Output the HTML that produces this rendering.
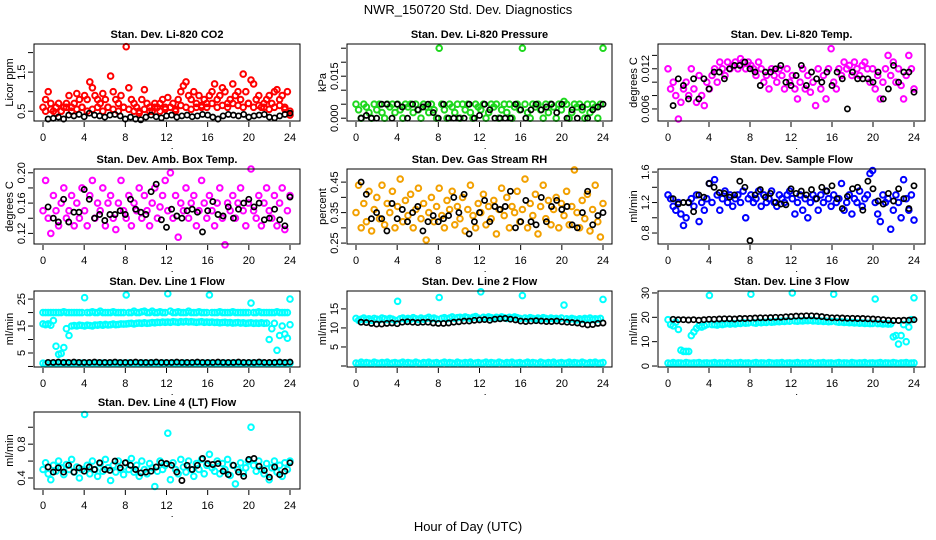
<!DOCTYPE html>
<html><head><meta charset="utf-8"><style>
html,body{margin:0;padding:0;background:#fff;}
svg{display:block;font-family:"Liberation Sans",sans-serif;}
</style></head><body>
<svg id="chart" width="936" height="540" viewBox="0 0 936 540" xmlns="http://www.w3.org/2000/svg">
<rect x="0" y="0" width="936" height="540" fill="#fff"/>
<text x="468" y="14" text-anchor="middle" font-size="13">NWR_150720  Std. Dev. Diagnostics</text>
<text x="468" y="531" text-anchor="middle" font-size="13">Hour of Day (UTC)</text>
</svg>
<script>
const xTicks = [0,4,8,12,16,20,24];

const co2Color = [0.6,0.8,1.0,0.7,0.5,0.6,0.7,0.5,0.6,0.7,0.9,0.6,0.7,0.95,0.8,0.6,
0.9,0.8,1.25,1.1,0.9,0.8,0.7,0.95,0.8,0.6,1.4,1.0,0.8,0.7,0.9,0.6,
2.15,1.1,0.8,0.7,0.6,0.5,0.8,1.05,0.7,0.6,0.5,0.7,0.6,0.7,0.8,0.6,
0.85,0.6,0.7,0.5,0.8,1.0,1.15,1.25,0.9,0.8,1.0,0.7,0.9,0.6,0.8,0.7,
0.9,1.0,1.2,0.8,0.9,1.1,1.0,0.7,0.8,1.2,0.9,1.0,0.8,1.45,1.0,0.7,
1.3,1.2,0.8,0.9,0.6,0.7,0.8,0.9,0.7,1.0,1.05,0.8,0.9,0.6,1.0,0.4];
const co2Low = [0.5,0.55,0.45,0.5,0.6,0.5,0.55,0.6,0.5,0.55,0.6,0.5,0.6,0.55,0.5,0.6,0.55,0.5,0.45,0.55,0.5,0.6,0.5,0.55,
0.6,0.55,0.65,0.6,0.55,0.6,0.65,0.6,0.7,0.6,0.65,0.6,0.7,0.65,0.6,0.7,0.6,0.65,0.6,0.55,0.6,0.65,0.55,0.5];
const co2Black = [0.3,0.32,0.35,0.3,0.4,0.38,0.42,0.36,0.45,0.4,0.38,0.35,0.4,0.42,0.38,0.3,0.35,0.3,0.28,0.35,0.4,0.36,0.33,0.38,0.4,0.35,0.38,0.4,0.36,0.38,0.42,0.4,0.35,0.3,0.38,0.42,0.4,0.38,0.42,0.35,0.38,0.4,0.42,0.35,0.33,0.38,0.42,0.45];

const presColor = [0.005,0.003,0,0.005,0.004,0.002,0,0.005,0.003,0.005,0.002,0,0.005,0.004,0.005,0.002,
0.005,0.003,0,0.005,0.004,0.005,0.002,0.005,0.003,0,0.005,0.004,0.002,0.005,0.003,0,
0.025,0.005,0.003,0,0.005,0.004,0.002,0.005,0,0.005,0.003,0.005,0.002,0,0.005,0.004,
0.003,0.005,0,0.002,0.005,0.004,0.005,0,0.003,0.005,0.002,0.005,0,0.004,0.005,0.003,
0.025,0.005,0.002,0,0.005,0.004,0.005,0.003,0,0.005,0.002,0.005,0.004,0,0.005,0.003,
0.006,0.005,0,0.002,0.005,0.004,0.005,0.003,0,0.005,0.002,0.005,0.004,0,0.005,0.025];
const presBlack = [0,0.001,0,0,0.005,0.005,0,0.005,0.004,0,0.005,0.003,0.004,0.005,0.002,0,0.005,0,0,0,0,0.005,0,0.001,0.005,0.003,0,0,0,0,0.005,0.003,0,0.003,0.005,0.003,0.004,0.005,0.002,0.005,0,0.003,0,0.004,0,0.003,0.004,0.005];

const tempColor = [0.012,0.009,0.01,0.008,0.0045,0.007,0.009,0.01,0.008,0.012,0.009,0.007,0.011,0.008,0.0065,0.01,
0.009,0.011,0.012,0.01,0.013,0.012,0.011,0.013,0.012,0.0125,0.013,0.012,0.0135,0.013,0.012,0.013,
0.0125,0.012,0.011,0.013,0.012,0.01,0.011,0.009,0.012,0.011,0.01,0.012,0.011,0.009,0.012,0.01,
0.011,0.009,0.0075,0.01,0.012,0.009,0.011,0.0085,0.01,0.0065,0.012,0.009,0.011,0.0075,0.012,0.015,
0.01,0.009,0.012,0.011,0.013,0.012,0.0125,0.011,0.013,0.012,0.011,0.0125,0.013,0.012,0.01,0.012,
0.009,0.011,0.0075,0.01,0.012,0.014,0.011,0.013,0.01,0.012,0.0095,0.0075,0.011,0.014,0.012,0.009];
const tempBlack = [0.0065,0.0105,0.0095,0.0075,0.0105,0.0075,0.0105,0.009,0.0115,0.0115,0.0105,0.012,0.0125,0.0125,0.013,0.012,0.0115,0.0095,0.0115,0.0115,0.012,0.0125,0.01,0.0095,0.011,0.0125,0.0095,0.0115,0.0105,0.01,0.0115,0.0095,0.0115,0.0105,0.006,0.0115,0.0105,0.0105,0.0105,0.01,0.0115,0.0075,0.009,0.0125,0.01,0.0115,0.0115,0.0085];

const boxColor = [0.15,0.19,0.14,0.12,0.17,0.15,0.13,0.16,0.18,0.14,0.15,0.17,0.13,0.16,0.14,0.18,
0.15,0.13,0.17,0.19,0.14,0.16,0.15,0.18,0.13,0.16,0.17,0.14,0.125,0.16,0.19,0.15,
0.14,0.17,0.13,0.16,0.15,0.18,0.14,0.17,0.15,0.13,0.16,0.18,0.14,0.155,0.17,0.19,
0.15,0.2,0.14,0.17,0.115,0.16,0.15,0.18,0.14,0.16,0.17,0.13,0.15,0.19,0.16,0.14,
0.17,0.15,0.13,0.16,0.18,0.14,0.105,0.16,0.15,0.17,0.14,0.16,0.18,0.15,0.13,0.16,
0.205,0.15,0.14,0.17,0.13,0.16,0.18,0.15,0.14,0.17,0.13,0.16,0.18,0.125,0.15,0.17];
const boxBlack = [0.155,0.14,0.135,0.165,0.135,0.148,0.148,0.178,0.165,0.14,0.145,0.137,0.145,0.145,0.15,0.145,0.165,0.152,0.148,0.145,0.175,0.185,0.138,0.128,0.152,0.143,0.14,0.15,0.152,0.148,0.122,0.15,0.162,0.145,0.143,0.155,0.14,0.152,0.16,0.165,0.155,0.16,0.138,0.14,0.152,0.138,0.13,0.168];

const rhColor = [0.35,0.44,0.3,0.38,0.32,0.42,0.29,0.36,0.4,0.33,0.44,0.31,0.38,0.35,0.42,0.3,
0.37,0.46,0.32,0.39,0.34,0.41,0.3,0.36,0.43,0.33,0.38,0.26,0.35,0.4,0.32,0.37,
0.43,0.34,0.3,0.39,0.36,0.42,0.31,0.37,0.33,0.4,0.29,0.36,0.44,0.34,0.3,0.38,
0.35,0.41,0.31,0.37,0.33,0.39,0.28,0.36,0.43,0.34,0.4,0.3,0.37,0.35,0.42,0.32,
0.36,0.46,0.3,0.38,0.34,0.41,0.28,0.37,0.44,0.33,0.39,0.31,0.36,0.4,0.3,0.38,
0.34,0.42,0.31,0.37,0.49,0.35,0.3,0.39,0.33,0.41,0.29,0.36,0.44,0.32,0.27,0.38];
const rhBlack = [0.45,0.41,0.33,0.35,0.33,0.29,0.38,0.33,0.36,0.32,0.35,0.37,0.29,0.32,0.34,0.32,0.33,0.34,0.4,0.35,0.41,0.28,0.32,0.35,0.39,0.32,0.37,0.36,0.37,0.42,0.3,0.32,0.39,0.32,0.31,0.4,0.32,0.37,0.39,0.36,0.37,0.31,0.3,0.35,0.42,0.31,0.34,0.35];

const flowColor = [1.3,1.25,1.15,1.1,1.2,1.05,0.9,1.0,1.2,1.25,1.15,1.3,0.95,1.2,1.1,1.25,
1.45,1.2,1.5,1.3,1.1,1.25,1.35,1.2,1.3,1.15,1.25,1.3,1.2,1.35,1.0,1.25,
1.3,1.2,1.25,1.35,1.15,1.3,1.2,1.25,1.35,1.2,1.15,1.3,1.25,1.2,1.3,1.35,
1.25,1.05,1.2,1.3,1.1,1.25,1.0,1.2,1.3,1.25,1.1,1.3,1.2,1.35,1.25,1.15,
1.3,1.2,1.25,1.45,1.1,1.2,1.3,1.05,1.25,1.2,1.35,1.15,1.25,1.3,1.58,1.62,
1.2,1.05,0.95,1.3,1.2,1.25,0.85,1.1,1.3,1.2,1.0,1.5,1.25,1.1,1.3,0.97];
const flowBlack = [1.25,1.18,1.2,1.2,1.08,1.3,1.27,1.45,1.4,1.33,1.32,1.27,1.3,1.48,1.4,0.7,1.3,1.37,1.27,1.32,1.2,1.18,1.17,1.38,1.32,1.35,1.3,1.37,1.25,1.4,1.35,1.42,1.25,1.12,1.28,1.38,1.4,1.1,1.48,1.38,1.22,1.18,1.32,1.22,1.38,1.25,1.12,1.42];

const line1Upper = [20,20,20,20,20,20,20,20,20.3,20,20,20,20,20,20,20,
25.5,20,20,20.3,20,20,20.5,20,20,20,20,20.3,20,20,20,20,
26.5,20,20,20.5,20,20,20.3,20.5,20,20,20.5,20,20,20.3,20,20,
27,20.5,20,20,20.3,20,20,20,20.5,20,20,20,20.3,20,20,20,
26.5,20,20,20,20.3,20,20,20,20,20.3,20,20,20,20,20,20,
23.5,20,20,20.3,20,20,20,20,20,20,20.3,20,20,20,20,25];
const line1Lower = [15.8,15.5,15.8,15.3,17,7.5,4.5,4.8,7,14,11.5,15,15.2,15,15.3,15.2,
15,15.3,15.2,15,15.4,15.3,15.5,15.3,15.6,15.4,15.5,15.7,15.5,15.6,15.8,15.7,
15.8,15.9,16,15.8,16,16.1,16,16.2,16,16.1,16.3,16.2,16.4,16.3,16.5,16.4,
16.5,16.4,16.6,16.5,16.4,16.6,16.5,16.7,16.5,16.6,16.5,16.4,16.5,16.6,16.4,16.5,
16.4,16.5,16.3,16.4,16.2,16.3,16.4,16.2,16.3,16.1,16.2,16.3,16.1,16.2,16,16.1,
16.2,16,16.1,16,16.2,16,16.1,10,14,16,6,11.5,15,12,10.5,15.5];
const line1Base = [1.2,1.0,1.3,1.1,1.2,1.0,1.3,1.2,1.1,1.4,1.2,1.0,1.3,1.2,1.1,1.2,
1.3,1.1,1.2,1.0,1.3,1.2,1.1,1.2,1.3,1.0,1.2,1.1,1.3,1.2,1.0,1.2,
1.1,1.3,1.2,1.0,1.2,1.1,1.3,1.2,1.0,1.2,1.3,1.1,1.2,1.0,1.3,1.2,
1.1,1.2,1.3,1.0,1.2,1.1,1.3,1.2,1.0,1.2,1.1,1.3,1.2,1.0,1.2,1.1,
1.3,1.2,1.0,1.2,1.1,1.3,1.2,1.0,1.2,1.1,1.3,1.2,1.0,1.2,1.1,1.3,
1.2,1.0,1.2,1.1,1.3,1.2,1.0,1.2,1.1,1.3,1.2,1.0,1.2,1.1,1.3,1.2];
const line1Black = [1.5,1.5,1.6,1.5,1.5,1.6,1.5,1.5,1.5,1.6,1.5,1.5,1.5,1.6,1.5,1.5,1.5,1.6,1.5,1.5,1.5,1.6,1.5,1.5,1.5,1.6,1.5,1.5,1.5,1.6,1.5,1.5,1.5,1.6,1.5,1.5,1.5,1.6,1.5,1.5,1.5,1.6,1.5,1.5,1.5,1.6,1.5,1.6];

const line2Upper = [12.5,12,12.3,12.6,12.2,12.4,12,12.5,12.3,12.1,12.6,12.4,12.2,12.5,12.3,12,
17,12.4,12.6,12.2,12.5,12.3,12.7,12.4,12.2,12.6,12.3,12.5,12.8,12.4,12.6,12.3,
18,12.5,12.7,12.4,12.6,12.9,12.5,12.7,12.8,12.6,12.9,12.7,12.5,12.8,13,12.6,
19.5,12.8,12.6,12.9,12.7,12.5,12.8,12.6,12.9,12.7,12.5,12.8,12.6,12.9,12.7,12.5,
18.5,12.6,12.4,12.7,12.5,12.3,12.6,12.4,12.7,12.5,12.3,12.6,12.4,12.5,12.3,12.6,
16,12.4,12.2,12.5,12.3,12.1,12.4,12.2,12.5,12.3,12.6,12.2,12.4,12.3,12.5,17.5];
const line2Base = [0.8,0.6,1.0,0.7,0.9,0.8,0.6,1.0,0.8,0.7,0.9,0.8,1.0,0.6,0.8,0.9,
0.7,0.8,1.0,0.6,0.9,0.8,0.7,1.0,0.8,0.6,0.9,0.8,1.0,0.7,0.8,0.9,
0.6,0.8,1.0,0.7,0.9,0.8,0.6,1.0,0.8,0.7,0.9,0.8,1.0,0.6,0.8,0.9,
0.7,0.8,1.0,0.6,0.9,0.8,0.7,1.0,0.8,0.6,0.9,0.8,1.0,0.7,0.8,0.9,
0.6,0.8,1.0,0.7,0.9,0.8,0.6,1.0,0.8,0.7,0.9,0.8,1.0,0.6,0.8,0.9,
0.7,0.8,1.0,0.6,0.9,0.8,0.7,1.0,0.8,0.6,0.9,0.8,1.0,0.7,0.8,0.9];
const line2Black = [11.5,11.4,11.2,11,11,11.2,11.3,11.1,11.5,11.6,11.5,11.4,11.5,11.5,11.3,11.2,11.2,11.3,11.5,11.6,11.8,11.8,12,12.1,12.2,12,12.3,12.4,12.5,12.3,12.1,11.8,11.7,11.8,11.9,11.8,11.7,11.7,11.8,11.6,11.5,11.4,11.3,11,10.8,10.9,11.2,11.3];

const line3Upper = [19,17,16.5,18,15,6.5,6,6,6,12.5,14,15.5,16.5,16,16.5,17,
29,17,17,16.8,17.2,17,17.3,17.5,17.2,17.5,17.3,17.6,17.5,17.8,17.6,17.7,
29.5,17.8,17.6,18,17.8,18,17.9,18.2,18,18.1,18.3,18.2,18.4,18.3,18.5,18.4,
30,18.5,18.4,18.6,18.5,18.7,18.6,18.8,18.5,18.6,18.4,18.5,18.3,18.4,18.2,18.3,
29.5,18.2,18,18.1,17.9,18,17.8,17.9,17.7,17.8,17.6,17.7,17.5,17.6,17.4,17.5,
27.5,17.4,17.5,17.3,17.4,17.2,17.3,12,12.5,9,12.5,17,10,16,19,28];
const line3Base = [1.2,1.0,1.4,1.1,1.3,1.2,1.0,1.4,1.2,1.1,1.3,1.2,1.4,1.0,1.2,1.3,
1.1,1.2,1.4,1.0,1.3,1.2,1.1,1.4,1.2,1.0,1.3,1.2,1.4,1.1,1.2,1.3,
1.0,1.2,1.4,1.1,1.3,1.2,1.0,1.4,1.2,1.1,1.3,1.2,1.4,1.0,1.2,1.3,
1.1,1.2,1.4,1.0,1.3,1.2,1.1,1.4,1.2,1.0,1.3,1.2,1.4,1.1,1.2,1.3,
1.0,1.2,1.4,1.1,1.3,1.2,1.0,1.4,1.2,1.1,1.3,1.2,1.4,1.0,1.2,1.3,
1.1,1.2,1.4,1.0,1.3,1.2,1.1,1.4,1.2,1.0,1.3,1.2,1.4,1.1,1.2,1.3];
const line3Black = [19.2,19,19,18.9,19,18.8,19,19.2,19.2,19.3,19.4,19.4,19.3,19.5,19.5,19.6,19.7,19.8,19.8,19.9,20,20,20.2,20.3,20.5,20.5,20.6,20.6,20.5,20.3,20,19.8,19.8,19.7,19.6,19.6,19.5,19.5,19.4,19.3,19.2,19,18.8,18.7,18.7,18.8,18.8,19];

const line4Color = [0.5,0.58,0.45,0.38,0.55,0.48,0.6,0.52,0.44,0.56,0.5,0.62,0.47,0.53,0.4,0.5,
1.15,0.55,0.45,0.6,0.5,0.42,0.57,0.48,0.62,0.52,0.37,0.55,0.47,0.6,0.5,0.44,
0.58,0.5,0.63,0.47,0.55,0.42,0.6,0.5,0.45,0.57,0.52,0.3,0.48,0.6,0.5,0.55,
0.93,0.38,0.58,0.5,0.45,0.62,0.53,0.47,0.6,0.5,0.42,0.57,0.5,0.62,0.45,0.55,
0.68,0.52,0.48,0.6,0.45,0.57,0.5,0.62,0.43,0.55,0.33,0.5,0.58,0.46,0.52,0.6,
1.0,0.55,0.48,0.6,0.5,0.45,0.57,0.38,0.52,0.6,0.47,0.55,0.42,0.58,0.5,0.6];
const line4Black = [0.53,0.47,0.52,0.47,0.55,0.47,0.52,0.48,0.53,0.5,0.58,0.5,0.49,0.6,0.52,0.58,0.55,0.5,0.46,0.47,0.48,0.53,0.58,0.57,0.55,0.47,0.37,0.55,0.5,0.55,0.63,0.57,0.56,0.57,0.48,0.44,0.55,0.47,0.42,0.62,0.63,0.54,0.49,0.41,0.53,0.44,0.48,0.58];

const NS = "http://www.w3.org/2000/svg";
const svg = document.getElementById('chart');
function mk(tag, attrs, parent){
  const e = document.createElementNS(NS, tag);
  for (const k in attrs) e.setAttribute(k, attrs[k]);
  (parent||svg).appendChild(e);
  return e;
}
const COLS = [{l:34,r:300,x0:43,x24:290},{l:347,r:612,x0:356,x24:603},{l:658,r:925,x0:668,x24:914}];
const ROWS = [{t:44,b:121},{t:169,b:244},{t:291,b:367},{t:412,b:489}];

const panels = [
 {name:'co2',title:'Stan. Dev. Li-820 CO2',ylab:'Licor ppm',c:0,r:0,ymin:0.25,ymax:2.22,ticks:[0.5,1,1.5,2],labels:['0.5','1.5'],col:'#ff0000',series:[co2Color,co2Low],black:co2Black},
 {name:'pressure',title:'Stan. Dev. Li-820 Pressure',ylab:'kPa',c:1,r:0,ymin:-0.001,ymax:0.0265,ticks:[0,0.005,0.01,0.015,0.02,0.025],labels:['0.000','0.015'],col:'#1ed81e',series:[presColor],black:presBlack},
 {name:'li820-temp',title:'Stan. Dev. Li-820 Temp.',ylab:'degrees C',c:2,r:0,ymin:0.0042,ymax:0.0157,ticks:[0.006,0.008,0.01,0.012,0.014],labels:['0.006','0.012'],col:'#ff00ff',series:[tempColor],black:tempBlack},
 {name:'box-temp',title:'Stan. Dev. Amb. Box Temp.',ylab:'degrees C',c:0,r:1,ymin:0.106,ymax:0.205,ticks:[0.12,0.14,0.16,0.18,0.2],labels:['0.12','0.16','0.20'],col:'#ff00ff',series:[boxColor],black:boxBlack},
 {name:'gas-rh',title:'Stan. Dev. Gas Stream RH',ylab:'percent',c:1,r:1,ymin:0.247,ymax:0.493,ticks:[0.25,0.3,0.35,0.4,0.45],labels:['0.25','0.35','0.45'],col:'#f2a000',series:[rhColor],black:rhBlack},
 {name:'sample-flow',title:'Stan. Dev. Sample Flow',ylab:'ml/min',c:2,r:1,ymin:0.656,ymax:1.64,ticks:[0.8,1.0,1.2,1.4,1.6],labels:['0.8','1.2','1.6'],col:'#0000ff',series:[flowColor],black:flowBlack},
 {name:'line1-flow',title:'Stan. Dev. Line 1 Flow',ylab:'ml/min',c:0,r:2,ymin:-0.2,ymax:28,ticks:[0,5,10,15,20,25],labels:['5','15','25'],col:'#00ffff',series:[line1Upper,line1Lower,line1Base],black:line1Black},
 {name:'line2-flow',title:'Stan. Dev. Line 2 Flow',ylab:'ml/min',c:1,r:2,ymin:-0.26,ymax:19.7,ticks:[0,5,10,15],labels:['5','10','15'],col:'#00ffff',series:[line2Upper,line2Base],black:line2Black},
 {name:'line3-flow',title:'Stan. Dev. Line 3 Flow',ylab:'ml/min',c:2,r:2,ymin:-0.4,ymax:30.8,ticks:[0,10,20,30],labels:['0','10','20','30'],col:'#00ffff',series:[line3Upper,line3Base],black:line3Black},
 {name:'line4-flow',title:'Stan. Dev. Line 4 (LT) Flow',ylab:'ml/min',c:0,r:3,ymin:0.27,ymax:1.18,ticks:[0.4,0.6,0.8,1.0],labels:['0.4','0.8'],col:'#00ffff',series:[line4Color],black:line4Black}
];

panels.forEach(p => {
  const C = COLS[p.c], R = ROWS[p.r];
  const g = mk('g', {});
  
  
  const xs = h => C.x0 + (C.x24 - C.x0) * h / 24;
  const ys = v => R.b - (R.b - R.t) * (v - p.ymin) / (p.ymax - p.ymin);
  const t = mk('text', {x:(C.l+C.r)/2, y:R.t-6, 'text-anchor':'middle', 'font-size':'11', 'font-weight':'bold'}, g);
  t.textContent = p.title;
  
  
  const yl = mk('text', {x:0, y:0, 'text-anchor':'middle', 'font-size':'11', transform:`translate(${C.l-21},${(R.t+R.b)/2}) rotate(-90)`}, g);
  yl.textContent = p.ylab;
  
  
  const pg = mk('g', {fill:'none'}, g);
  
  
  p.series.forEach((arr, si) => {
    const off = si === 1 && arr.length < 96 ? 0.25 : 0;
    arr.forEach((v, i) => {
      const h = off + i * (24 - off) / (arr.length - 1);
      const c = mk('circle', {cx:xs(h).toFixed(1), cy:ys(v).toFixed(1), r:'2.8', stroke:p.col, 'stroke-width':'2'}, pg);
      
      
    });
  });
  p.black.forEach((v, i) => {
    const h = 0.5 + i * 23.5 / (p.black.length - 1);
    const c = mk('circle', {cx:xs(h).toFixed(1), cy:ys(v).toFixed(1), r:'2.6', stroke:'#000', 'stroke-width':'1.7'}, pg);
    
    
  });
  const b = mk('rect', {x:C.l, y:R.t, width:C.r-C.l, height:R.b-R.t, fill:'none', stroke:'#000', 'stroke-width':'1'}, g);
  
  
  xTicks.forEach(h => {
    mk('line', {x1:xs(h), x2:xs(h), y1:R.b+1, y2:R.b+6, stroke:'#000'}, g);
    const tl = mk('text', {x:xs(h), y:R.b+20, 'text-anchor':'middle', 'font-size':'11'}, g);
    tl.textContent = h;
    
    
  });
  mk('rect', {x:xs(12.5), y:R.b+27, width:1, height:1, fill:'#000'}, g);
  p.ticks.forEach(v => {
    mk('line', {x1:C.l-6, x2:C.l-1, y1:ys(v), y2:ys(v), stroke:'#000'}, g);
  });
  p.labels.forEach(s => {
    const v = parseFloat(s);
    const yt = mk('text', {x:0, y:0, 'text-anchor':'middle', 'font-size':'11', transform:`translate(${C.l-9},${ys(v)}) rotate(-90)`}, g);
    yt.textContent = s;
    
    
  });
});
</script>
</body></html>
